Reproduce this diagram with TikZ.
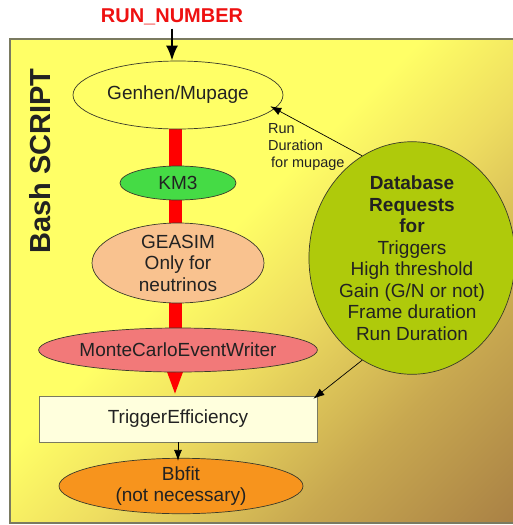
\documentclass[tikz,border=0pt]{standalone}
\usepackage{fontspec}
\setmainfont{Liberation Sans}
\usetikzlibrary{shapes.geometric,arrows.meta}
\pgfdeclarelayer{bg}
\pgfdeclarelayer{back}
\pgfsetlayers{bg,back,main}
\definecolor{bgY}{HTML}{FFFF66}
\definecolor{bgY2}{HTML}{EEDD60}
\definecolor{bgT}{HTML}{C8A850}
\definecolor{bgB}{HTML}{9C7040}
\definecolor{genY}{HTML}{FFFF66}
\definecolor{kmG}{HTML}{45DB45}
\definecolor{peach}{HTML}{F9C28F}
\definecolor{salmon}{HTML}{F27979}
\definecolor{cream}{HTML}{FFFFDD}
\definecolor{orangeB}{HTML}{F7941D}
\definecolor{dbG}{HTML}{AFCA0B}
\definecolor{txt}{HTML}{222222}
\definecolor{edge}{HTML}{3A3A2A}
\definecolor{boxedge}{HTML}{7A7A60}
\definecolor{barred}{HTML}{FF0000}
\definecolor{runred}{HTML}{EE1111}
\pgfdeclarehorizontalshading{bgshade}{100bp}{color(0bp)=(bgY); color(44bp)=(bgY); color(55bp)=(bgY2); color(70bp)=(bgT); color(92bp)=(bgB); color(100bp)=(bgB)}
\tikzset{
  lbl/.style={text=txt, font=\fontsize{19}{21.5}\selectfont, align=center},
  ell/.style={ellipse, draw=edge, line width=0.7pt, inner sep=0pt, lbl},
  redbar/.style={draw=barred, line width=13pt},
  thinarrow/.style={draw=black, line width=0.7pt, -{Latex[length=11pt,width=8pt]}},
}
\begin{document}
\begin{tikzpicture}[x=1pt,y=-1pt]
\useasboundingbox (0,0) rectangle (512,525);
\begin{pgfonlayer}{bg}
  \shade[shading=bgshade, shading angle=-45] (10,39) rectangle (516,523);
  \draw[boxedge, line width=1.5pt] (10,39) rectangle (516,523);
\end{pgfonlayer}

\node[text=runred, font=\bfseries\fontsize{20}{20}\selectfont] (run) at (172,17) {RUN\_NUMBER};
\node[rotate=90, text=txt, font=\bfseries\fontsize{29}{29}\selectfont] (bash) at (40,161) {Bash SCRIPT};

\node[ell, fill=genY, minimum width=210pt, minimum height=68pt] (genhen) at (178,95) {Genhen/Mupage};
\node[ell, fill=kmG, minimum width=116pt, minimum height=34pt] (km3) at (178,183) {KM3};
\node[ell, fill=peach, minimum width=172pt, minimum height=80pt] (geasim) at (178,263) {GEASIM\\Only for\\neutrinos};
\node[ell, fill=salmon, minimum width=254pt, minimum height=44pt] (mcew) at (178,350) {MonteCarloEventWriter};
\node[rectangle, draw=boxedge, fill=cream, line width=0.8pt, minimum width=278pt, minimum height=46pt, inner sep=0pt, lbl] (trig) at (178,419) {TriggerEfficiency};
\node[ell, fill=orangeB, minimum width=244pt, minimum height=54pt] (bbfit) at (181,486) {Bbfit\\(not necessary)};
\node[ell, fill=dbG, minimum width=196pt, minimum height=230pt] (db) at (412,258) {\textbf{Database}\\\textbf{Requests}\\\textbf{for}\\Triggers\\High threshold\\Gain (G/N or not)\\Frame duration\\Run Duration};
\node[anchor=west, inner sep=0pt, text=txt, align=left, font=\fontsize{14.5}{17}\selectfont] (rlabel) at (268,147) {Run\\Duration\\\hspace{3pt}for mupage};

\begin{pgfonlayer}{back}
  \draw[redbar] ([xshift=-2.5pt]genhen.center) -- ([xshift=-2.5pt]km3.center);
  \draw[redbar] ([xshift=-2.5pt]km3.center) -- ([xshift=-2.5pt]geasim.center);
  \draw[redbar] ([xshift=-2.5pt]geasim.center) -- ([xshift=-2.5pt]mcew.center);
  \draw[draw=barred, fill=barred, line width=6pt, -{Triangle[length=24pt,width=14pt]}] ([xshift=-3pt]mcew.center) -- ([xshift=-3pt]trig.north);
\end{pgfonlayer}

\draw[line width=2.2pt, -{Latex[length=15pt,width=12pt]}] (run.south) -- (run.south |- genhen.north);
\draw[thinarrow, shorten >=-3pt] (trig.south) -- (trig.south |- bbfit.north);
\draw[thinarrow, shorten >=-5pt] (db.116) -- (genhen.-8);
\draw[thinarrow, shorten >=-5pt] (db.-116) -- (trig.north east);
\end{tikzpicture}
\end{document}
